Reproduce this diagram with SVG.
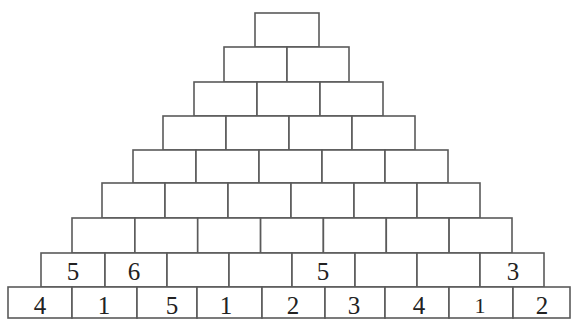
<svg xmlns="http://www.w3.org/2000/svg" width="576" height="320" viewBox="0 0 576 320">
<style>
.c{fill:#fff;stroke:#5a5a5a;stroke-width:1.6}
.t{font-family:"Liberation Serif","Times New Roman",serif;font-size:25px;fill:#222;text-anchor:middle}
</style>
<rect width="576" height="320" fill="#fff"/>
<g id="row1">
<g id="c1-1"><rect class="c" x="255" y="13" width="64" height="34"/></g>
</g>
<g id="row2">
<g id="c2-1"><rect class="c" x="224" y="47" width="63" height="35"/></g>
<g id="c2-2"><rect class="c" x="287" y="47" width="62" height="35"/></g>
</g>
<g id="row3">
<g id="c3-1"><rect class="c" x="194" y="82" width="63" height="34"/></g>
<g id="c3-2"><rect class="c" x="257" y="82" width="63" height="34"/></g>
<g id="c3-3"><rect class="c" x="320" y="82" width="63" height="34"/></g>
</g>
<g id="row4">
<g id="c4-1"><rect class="c" x="163" y="116" width="63" height="34"/></g>
<g id="c4-2"><rect class="c" x="226" y="116" width="63" height="34"/></g>
<g id="c4-3"><rect class="c" x="289" y="116" width="63" height="34"/></g>
<g id="c4-4"><rect class="c" x="352" y="116" width="63" height="34"/></g>
</g>
<g id="row5">
<g id="c5-1"><rect class="c" x="133" y="150" width="63" height="33"/></g>
<g id="c5-2"><rect class="c" x="196" y="150" width="63" height="33"/></g>
<g id="c5-3"><rect class="c" x="259" y="150" width="63" height="33"/></g>
<g id="c5-4"><rect class="c" x="322" y="150" width="63" height="33"/></g>
<g id="c5-5"><rect class="c" x="385" y="150" width="63" height="33"/></g>
</g>
<g id="row6">
<g id="c6-1"><rect class="c" x="102" y="183" width="63" height="35"/></g>
<g id="c6-2"><rect class="c" x="165" y="183" width="63" height="35"/></g>
<g id="c6-3"><rect class="c" x="228" y="183" width="63" height="35"/></g>
<g id="c6-4"><rect class="c" x="291" y="183" width="63" height="35"/></g>
<g id="c6-5"><rect class="c" x="354" y="183" width="63" height="35"/></g>
<g id="c6-6"><rect class="c" x="417" y="183" width="63" height="35"/></g>
</g>
<g id="row7">
<g id="c7-1"><rect class="c" x="72" y="218" width="62.9" height="35"/></g>
<g id="c7-2"><rect class="c" x="134.9" y="218" width="62.8" height="35"/></g>
<g id="c7-3"><rect class="c" x="197.7" y="218" width="62.9" height="35"/></g>
<g id="c7-4"><rect class="c" x="260.6" y="218" width="62.8" height="35"/></g>
<g id="c7-5"><rect class="c" x="323.4" y="218" width="62.9" height="35"/></g>
<g id="c7-6"><rect class="c" x="386.3" y="218" width="62.8" height="35"/></g>
<g id="c7-7"><rect class="c" x="449.1" y="218" width="62.9" height="35"/></g>
</g>
<g id="row8">
<g id="c8-1"><rect class="c" x="41" y="253" width="64" height="34"/><text class="t" x="73" y="280">5</text></g>
<g id="c8-2"><rect class="c" x="105" y="253" width="62" height="34"/><text class="t" x="134" y="280">6</text></g>
<g id="c8-3"><rect class="c" x="167" y="253" width="62" height="34"/></g>
<g id="c8-4"><rect class="c" x="229" y="253" width="63" height="34"/></g>
<g id="c8-5"><rect class="c" x="292" y="253" width="63" height="34"/><text class="t" x="323" y="280">5</text></g>
<g id="c8-6"><rect class="c" x="355" y="253" width="62" height="34"/></g>
<g id="c8-7"><rect class="c" x="417" y="253" width="63" height="34"/></g>
<g id="c8-8"><rect class="c" x="480" y="253" width="64" height="34"/><text class="t" x="513" y="280">3</text></g>
</g>
<g id="row9">
<g id="c9-1"><rect class="c" x="8" y="287" width="64" height="31"/><text class="t" x="40" y="314">4</text></g>
<g id="c9-2"><rect class="c" x="72" y="287" width="65" height="31"/><text class="t" x="104" y="314">1</text></g>
<g id="c9-3"><rect class="c" x="137" y="287" width="60" height="31"/><text class="t" x="172" y="314">5</text></g>
<g id="c9-4"><rect class="c" x="197" y="287" width="65" height="31"/><text class="t" x="226" y="314">1</text></g>
<g id="c9-5"><rect class="c" x="262" y="287" width="63" height="31"/><text class="t" x="293" y="314">2</text></g>
<g id="c9-6"><rect class="c" x="325" y="287" width="60" height="31"/><text class="t" x="354" y="314">3</text></g>
<g id="c9-7"><rect class="c" x="385" y="287" width="64" height="31"/><text class="t" x="419" y="314">4</text></g>
<g id="c9-8"><rect class="c" x="449" y="287" width="64" height="31"/><text class="t" x="480" y="313" style="font-size:22px">1</text></g>
<g id="c9-9"><rect class="c" x="513" y="287" width="57" height="31"/><text class="t" x="542" y="314">2</text></g>
</g>
<g id="connectors"/>
</svg>
